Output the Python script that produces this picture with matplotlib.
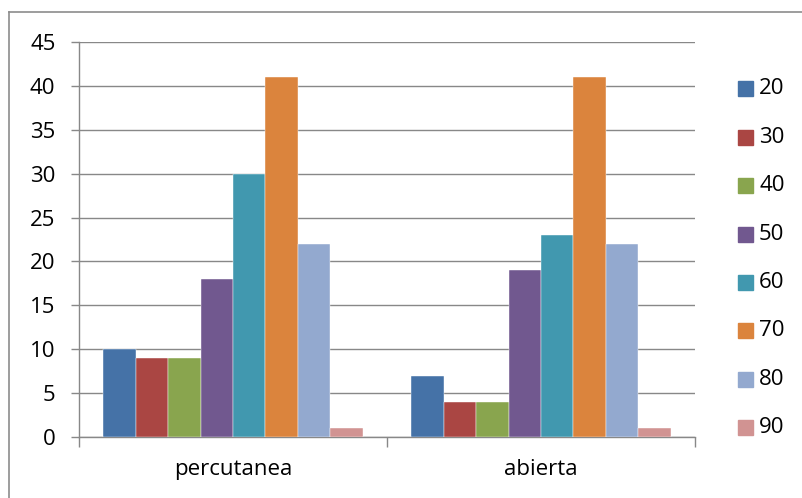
import matplotlib
matplotlib.use("Agg")
import matplotlib.pyplot as plt
from matplotlib.patches import Rectangle
from matplotlib.lines import Line2D
import numpy as np

plt.rcParams['font.family'] = ['Open Sans', 'DejaVu Sans']

categories = ["percutanea", "abierta"]
series_labels = ["20", "30", "40", "50", "60", "70", "80", "90"]
percutanea = [10, 9, 9, 18, 30, 41, 22, 1]
abierta = [7, 4, 4, 19, 23, 41, 22, 1]
colors = ["#4572A7", "#AA4643", "#89A54E", "#71588F",
          "#4198AF", "#DB843D", "#93A9CF", "#D19392"]
y_ticks = [0, 5, 10, 15, 20, 25, 30, 35, 40, 45]

W, H = 802, 498
fig = plt.figure(figsize=(W / 100, H / 100), dpi=100)

# outer chart frame (left and top edges visible)
fig.add_artist(Line2D([9 / W, 9 / W], [0, 1 - 12 / H], transform=fig.transFigure,
                      color="#8c8c8c", lw=1.2))
fig.add_artist(Line2D([9 / W, 1], [1 - 12 / H, 1 - 12 / H], transform=fig.transFigure,
                      color="#8c8c8c", lw=1.2))

left, right, top, bottom = 79, 695, 42, 437
ax = fig.add_axes([left / W, 1 - bottom / H, (right - left) / W, (bottom - top) / H])

data = np.array([percutanea, abierta])  # shape: categories x series
n_series = len(series_labels)
group_w = 0.844
bar_w = group_w / n_series
for j in range(n_series):
    xs = np.arange(len(categories)) + 0.5 - group_w / 2 + bar_w * (j + 0.5)
    ax.bar(xs, data[:, j], width=bar_w, color=colors[j], edgecolor="white",
           linewidth=0.3, zorder=3, label=series_labels[j])

ax.set_xlim(0, len(categories))
ax.set_ylim(0, 45)
ax.set_yticks(y_ticks)
ax.yaxis.grid(True, color="#888888", lw=1.0, zorder=0)
ax.set_axisbelow(True)

for s in ["top", "right"]:
    ax.spines[s].set_visible(False)
for s in ["left", "bottom"]:
    ax.spines[s].set_color("#888888")
    ax.spines[s].set_linewidth(1.0)

grey = "#888888"
fs = 16
ax.tick_params(axis="y", length=6, width=1.0, color=grey, pad=11, labelsize=fs)
ax.set_xticks(np.arange(len(categories) + 1))
ax.set_xticklabels([])
ax.tick_params(axis="x", which="major", length=7, width=1.0, color=grey)
ax.set_xticks(np.arange(len(categories)) + 0.5, minor=True)
ax.set_xticklabels(categories, minor=True)
ax.tick_params(axis="x", which="minor", length=0, pad=16, labelsize=fs)

# legend drawn as colored squares with labels
for i, (lab, col) in enumerate(zip(series_labels, colors)):
    yc = 89 + 48.35 * i
    fig.add_artist(Rectangle((738 / W, 1 - (yc + 7.5) / H), 15 / W, 15 / H,
                             transform=fig.transFigure, color=col))
    fig.text(759 / W, 1 - yc / H, lab, fontsize=fs, va="center", ha="left")

fig.savefig("out.png", dpi=100)
